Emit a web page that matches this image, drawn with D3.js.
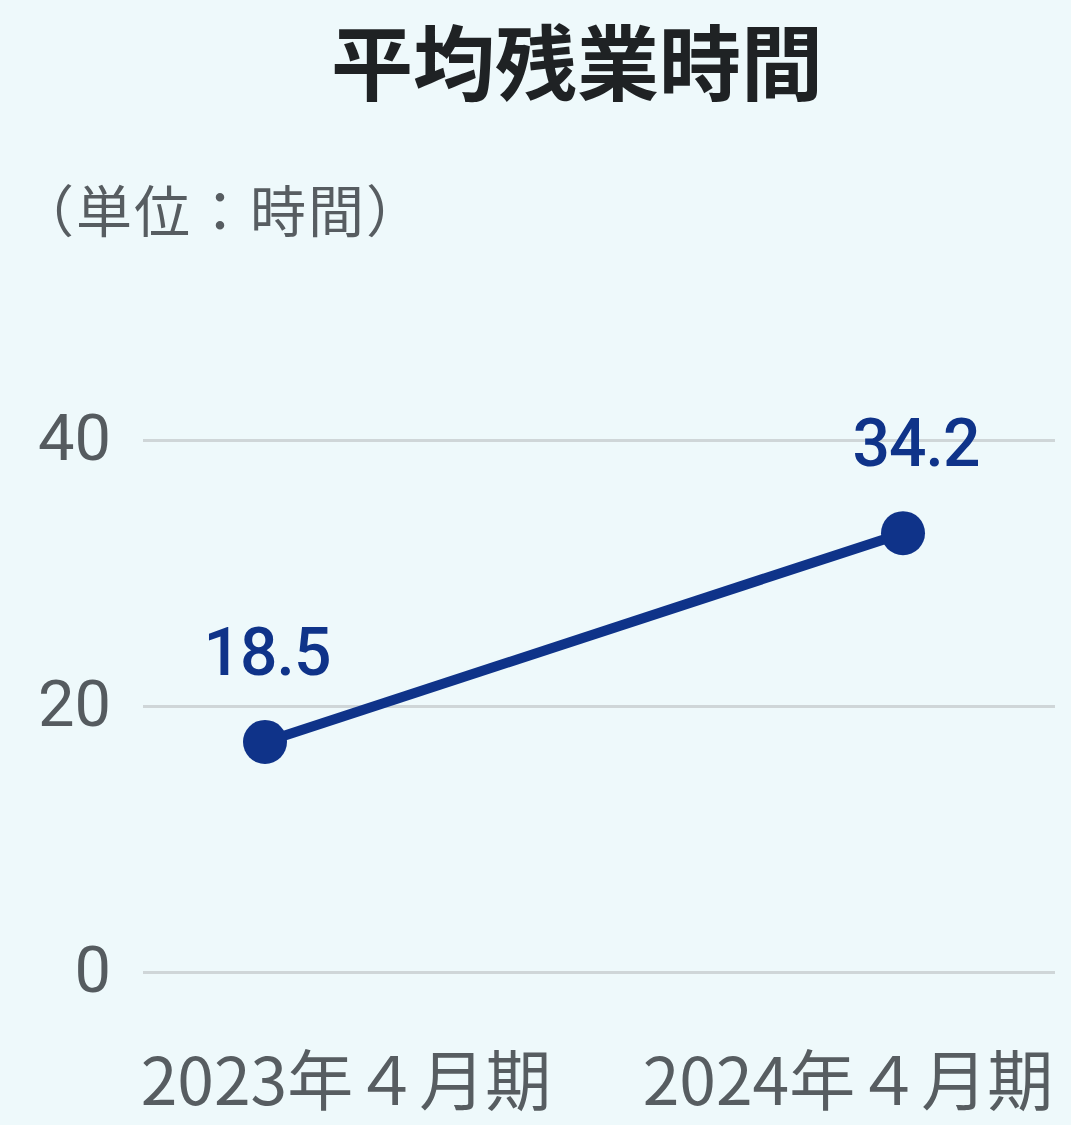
<!DOCTYPE html>
<html>
<head>
<meta charset="utf-8">
<script src="https://cdn.jsdelivr.net/npm/d3@7"></script>
<style>
  html, body { margin: 0; padding: 0; background: #eef9fb; }
  svg { display: block; }
</style>
</head>
<body>
<svg id="chart" width="1071" height="1125"></svg>
<script>
const titleText = "平均残業時間";
const unitText = "（単位：時間）";
const categories = ["2023年４月期", "2024年４月期"];
const values = [18.5, 34.2];
const valueLabels = ["18.5", "34.2"];
const yTicks = [0, 20, 40];

const W = 1071, H = 1125;
const svg = d3.select("#chart");
svg.append("rect").attr("width", W).attr("height", H).attr("fill", "#eef9fb");

const gridLeft = 143, gridRight = 1055;
const y = d3.scaleLinear().domain([0, 40]).range([972, 440]);
const x = d3.scalePoint().domain(categories).range([265, 903]);
const xLabel = d3.scalePoint().domain(categories).range([346, 848]);

// Title
svg.append("text")
  .attr("x", 577).attr("y", 94)
  .attr("text-anchor", "middle")
  .attr("font-family", "'Noto Sans CJK JP', sans-serif")
  .attr("font-weight", 700)
  .attr("font-size", 82)
  .attr("fill", "#1f2224")
  .text(titleText);

// Unit
svg.append("text")
  .attr("x", 18).attr("y", 232)
  .attr("font-family", "'Noto Sans CJK JP', sans-serif")
  .attr("font-size", 56)
  .attr("letter-spacing", 2)
  .attr("fill", "#575d61")
  .text(unitText);

// Y axis with gridlines
const yAxis = d3.axisLeft(y)
  .tickValues(yTicks)
  .tickSize(-(gridRight - gridLeft))
  .tickPadding(32)
  .tickFormat(d3.format("d"));

const gy = svg.append("g")
  .attr("transform", `translate(${gridLeft},0)`)
  .call(yAxis);
gy.select(".domain").remove();
gy.selectAll(".tick line")
  .attr("stroke", "#cfd6d8")
  .attr("stroke-width", 3);
gy.selectAll(".tick text")
  .attr("font-family", "Roboto, sans-serif")
  .attr("font-size", 65)
  .attr("fill", "#555b5f")
  .attr("dy", "0.3em");

// X labels
svg.append("g").selectAll("text")
  .data(categories)
  .join("text")
  .attr("x", d => xLabel(d))
  .attr("y", 1105)
  .attr("text-anchor", "middle")
  .attr("font-family", "'Noto Sans CJK JP', sans-serif")
  .attr("font-size", 66)
  .attr("fill", "#575d61")
  .text(d => d);

// Series
const series = svg.append("g").attr("transform", "translate(0,16)");
const pts = categories.map((c, i) => ({ c, v: values[i], label: valueLabels[i] }));

series.append("path")
  .datum(pts)
  .attr("fill", "none")
  .attr("stroke", "#0f3389")
  .attr("stroke-width", 10)
  .attr("d", d3.line().x(d => x(d.c)).y(d => y(d.v)));

series.selectAll("circle")
  .data(pts)
  .join("circle")
  .attr("cx", d => x(d.c))
  .attr("cy", d => y(d.v))
  .attr("r", 22)
  .attr("fill", "#0f3389");

series.selectAll("text.val")
  .data(pts)
  .join("text")
  .attr("class", "val")
  .attr("x", (d, i) => x(d.c) + (i === 1 ? 13 : 2))
  .attr("y", d => y(d.v) - 67)
  .attr("text-anchor", "middle")
  .attr("font-family", "Roboto, sans-serif")
  .attr("font-weight", 500)
  .attr("font-size", 66)
  .attr("letter-spacing", -1)
  .attr("fill", "#0f3389")
  .text(d => d.label);
</script>
</body>
</html>
